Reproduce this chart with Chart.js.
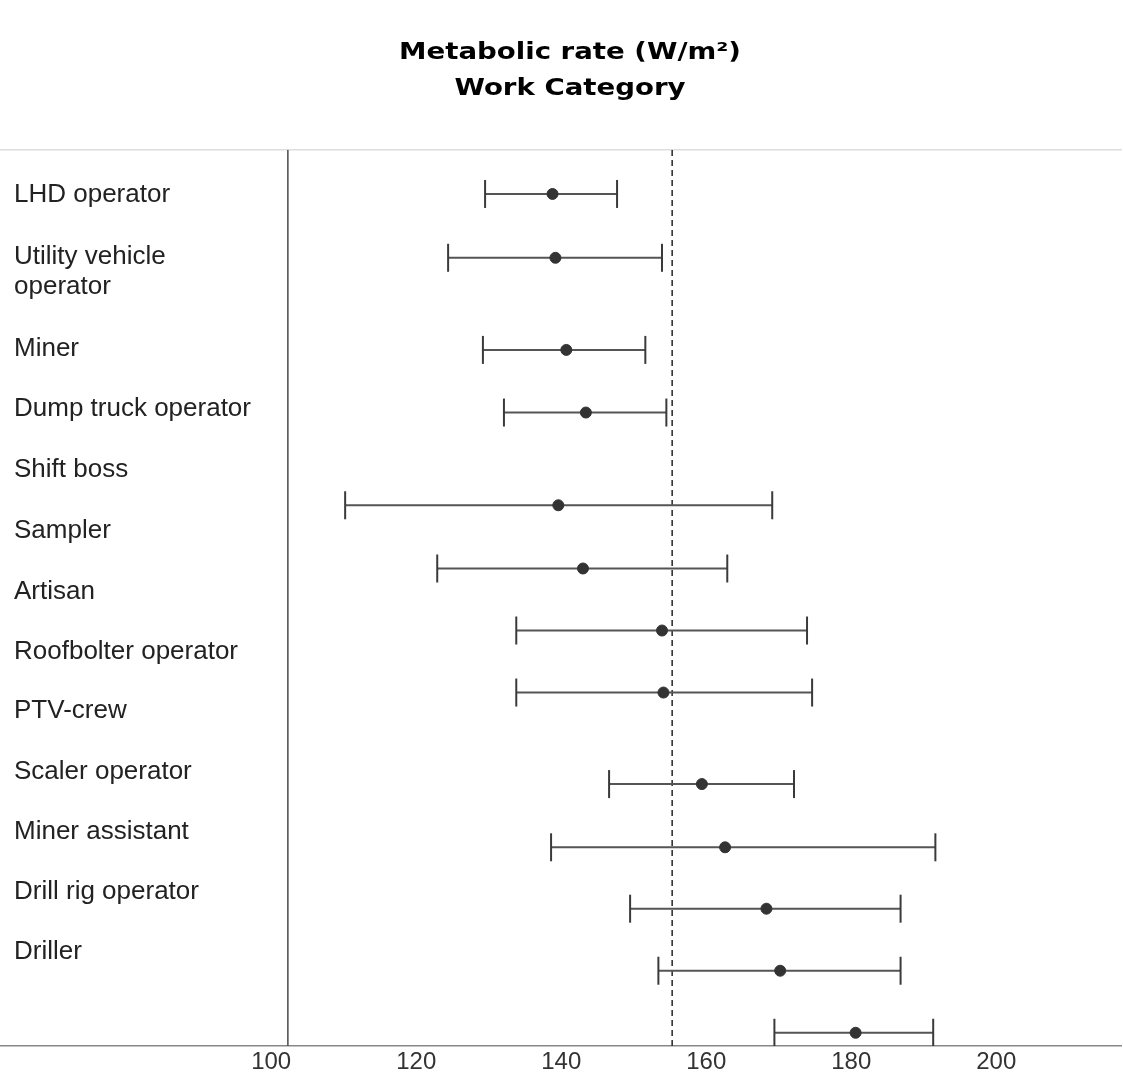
<!DOCTYPE html>
<html>
<head>
<meta charset="utf-8">
<title>Metabolic rate by work category</title>
<script src="https://cdn.jsdelivr.net/npm/chart.js@4.4.1/dist/chart.umd.min.js"></script>
<style>
  html, body { margin: 0; padding: 0; background: #fff; overflow: hidden; }
  #wrap { position: relative; width: 1123px; height: 1074px; overflow: hidden; }
  #chart { position: absolute; left: 0; top: 0; }
  .title {
    position: absolute; left: 0; width: 1140px; text-align: center;
    font: bold 23px "DejaVu Sans", Verdana, sans-serif; line-height: 26px; color: #000;
    transform: scaleX(1.2); transform-origin: 570px 0;
  }
  #t1 { top: 38px; }
  #t2 { top: 74px; }
</style>
</head>
<body>
<div id="wrap">
  <canvas id="chart" width="1123" height="1078"></canvas>
  <div class="title" id="t1">Metabolic rate (W/m²)</div>
  <div class="title" id="t2">Work Category</div>
</div>
<script>
// --- Data ---
const categories = [
  "LHD operator", ["Utility vehicle", "operator"], "Miner", "Dump truck operator",
  "Shift boss", "Sampler", "Artisan", "Roofbolter operator", "PTV-crew",
  "Scaler operator", "Miner assistant", "Drill rig operator", "Driller"
];
// row positions (top = 0, one label row = 1); labels and bars don't line up in the original
const labelRow = [0.75, 2.02, 3.30, 4.30, 5.31, 6.32, 7.34, 8.33, 9.32, 10.33, 11.33, 12.32, 13.32];
const barRow   = [0.73, 1.79, 3.32, 4.36, 5.90, 6.95, 7.98, 9.01, 10.53, 11.58, 12.60, 13.63, 14.66];
const mean = [138.8, 139.2, 140.7, 143.4, 139.6, 143.0, 153.9, 154.1, 159.4, 162.6, 168.3, 170.2, 180.6];
const low  = [129.5, 124.4, 129.2, 132.1, 110.2, 122.9, 133.8, 133.8, 146.6, 138.6, 149.5, 153.4, 169.4];
const high = [147.7, 153.9, 151.6, 154.5, 169.1, 162.9, 173.9, 174.6, 172.1, 191.6, 186.8, 186.8, 191.3];
const refLine = 155.3;      // dashed line
const axisLine = 102.3;     // solid vertical line
const xTicks = [100, 120, 140, 160, 180, 200];
const xMin = 62.6, xMax = 217.2;
const yMax = 14.88;

const FONT = '"Liberation Sans", Arial, sans-serif';

// --- Datasets ---
const meanSet = {
  type: "scatter",
  data: mean.map((m, i) => ({ x: m, y: barRow[i] })),
  pointRadius: 5.5,
  pointBackgroundColor: "#333",
  pointBorderColor: "#333",
};

const whiskerSets = categories.map((c, i) => ({
  type: "line",
  data: [{ x: low[i], y: barRow[i] }, { x: high[i], y: barRow[i] }],
  borderColor: "#555",
  borderWidth: 2,
  pointStyle: "line",
  pointRotation: 90,
  pointRadius: 14,
  pointBorderWidth: 2,
  pointBorderColor: "#3a3a3a",
}));

const vline = (x, dash, color, width) => ({
  type: "line",
  data: [{ x, y: 0 }, { x, y: yMax }],
  borderColor: color,
  borderWidth: width,
  borderDash: dash,
  pointRadius: 0,
});

new Chart(document.getElementById("chart"), {
  type: "line",
  data: {
    datasets: [
      meanSet,
      ...whiskerSets,
      vline(refLine, [6, 4], "#333", 1.6),
      vline(axisLine, [], "#555", 1.6),
    ],
  },
  options: {
    responsive: false,
    animation: false,
    layout: { autoPadding: false, padding: { top: 150, left: 0, right: 2, bottom: 0 } },
    plugins: { legend: { display: false }, tooltip: { enabled: false } },
    scales: {
      x: {
        type: "linear",
        min: xMin,
        max: xMax,
        bounds: "data",
        afterBuildTicks: (axis) => { axis.ticks = xTicks.map(v => ({ value: v })); },
        grid: { display: false, drawTicks: false },
        border: { display: true, color: "#888", width: 1.5 },
        ticks: { color: "#333", padding: 4, font: { family: FONT, size: 24, lineHeight: 1 } },
      },
      x2: {
        type: "linear",
        position: "top",
        min: xMin,
        max: xMax,
        grid: { display: false, drawTicks: false },
        border: { display: true, color: "#ddd", width: 1.5, dash: [3, 3] },
        ticks: { display: false },
      },
      y: {
        type: "linear",
        reverse: true,
        min: 0,
        max: yMax,
        bounds: "data",
        afterBuildTicks: (axis) => { axis.ticks = labelRow.map(v => ({ value: v })); },
        afterFit: (axis) => { axis.width = 0; },   // labels sit inside the plot
        grid: { display: false, drawTicks: false },
        border: { display: false },
        ticks: {
          mirror: true,
          padding: 14,
          autoSkip: false,
          color: "#222",
          font: { family: FONT, size: 26, lineHeight: 1.15 },
          callback: (v, i) => categories[i],
        },
      },
    },
  },
});
</script>
</body>
</html>
